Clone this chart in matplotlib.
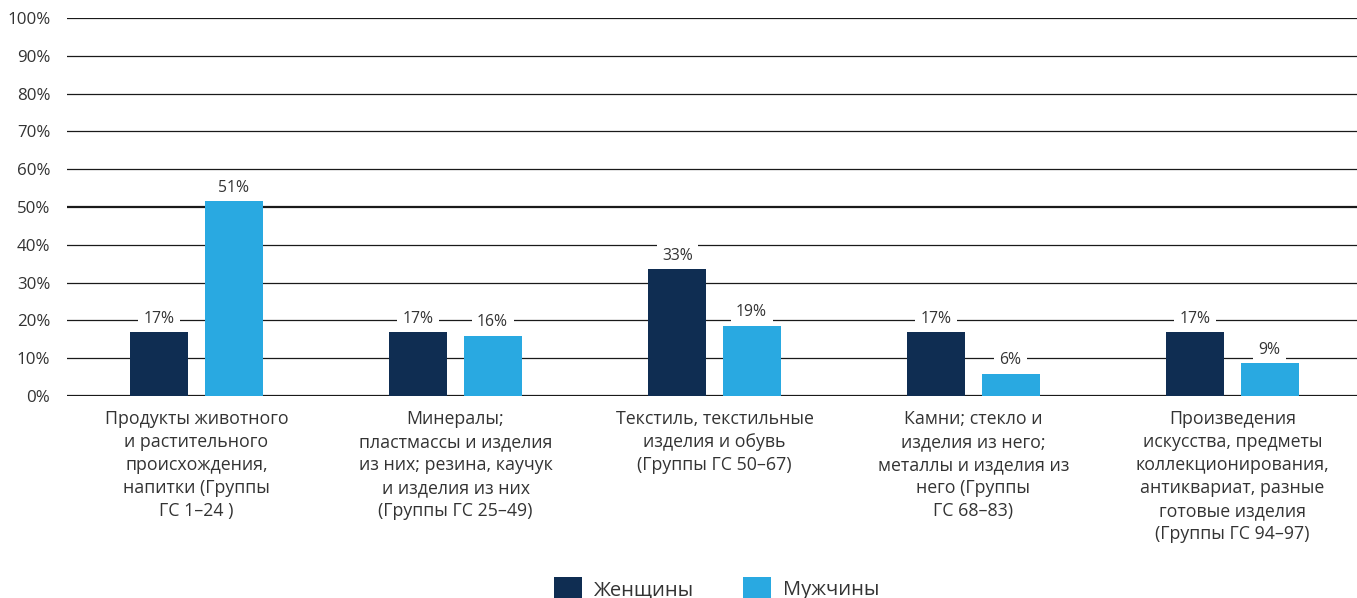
import matplotlib
matplotlib.use("Agg")
import matplotlib.pyplot as plt
import numpy as np
from matplotlib.patches import Patch

categories = [
    "Продукты животного\nи растительного\nпроисхождения,\nнапитки (Группы\nГС 1–24 )",
    "Минералы;\nпластмассы и изделия\nиз них; резина, каучук\nи изделия из них\n(Группы ГС 25–49)",
    "Текстиль, текстильные\nизделия и обувь\n(Группы ГС 50–67)",
    "Камни; стекло и\nизделия из него;\nметаллы и изделия из\nнего (Группы\nГС 68–83)",
    "Произведения\nискусства, предметы\nколлекционирования,\nантиквариат, разные\nготовые изделия\n(Группы ГС 94–97)",
]
women = [16.9, 16.9, 33.5, 16.9, 16.9]
men = [51.5, 15.9, 18.5, 5.8, 8.7]
women_labels = ["17%", "17%", "33%", "17%", "17%"]
men_labels = ["51%", "16%", "19%", "6%", "9%"]
series_names = ["Женщины", "Мужчины"]
yticks = [0, 10, 20, 30, 40, 50, 60, 70, 80, 90, 100]

c_women = "#0f2d52"
c_men = "#29a9e1"
txt = "#333333"

plt.rcParams['font.family'] = ['Open Sans', 'DejaVu Sans']

W, H = 1357, 598
fig = plt.figure(figsize=(W / 100, H / 100), dpi=100)
ax_left, ax_right = 67, 1362
ax_top, ax_bot = 18, 396
ax = fig.add_axes([ax_left / W, 1 - ax_bot / H, (ax_right - ax_left) / W, (ax_bot - ax_top) / H])

x = np.arange(len(categories))
bw = 0.224
off = 0.143

for t in yticks:
    lw = 1.6 if t in (0, 50, 100) else 0.9
    ax.axhline(t, color="#1a1a1a", lw=lw, zorder=1)

ax.bar(x - off, women, bw, color=c_women, zorder=2)
ax.bar(x + off, men, bw, color=c_men, zorder=2)

for xi, v, lab in zip(x, women, women_labels):
    ax.text(xi - off, v + 3.6, lab, ha="center", va="center", fontsize=11.3, color=txt, zorder=3,
            bbox=dict(facecolor="white", edgecolor="none", pad=4))
for xi, v, lab in zip(x, men, men_labels):
    ax.text(xi + off, v + 3.6, lab, ha="center", va="center", fontsize=11.3, color=txt, zorder=3,
            bbox=dict(facecolor="white", edgecolor="none", pad=4))

ax.set_xlim(-0.5, len(categories) - 0.5)
ax.set_ylim(0, 100)
ax.set_yticks(yticks)
ax.set_yticklabels([f"{t}%" for t in yticks], fontsize=12.2, color=txt)
ax.set_xticks(x)
ax.set_xticklabels(categories, fontsize=12.8, color=txt, linespacing=1.36, va="top")
ax.tick_params(axis="both", length=0)
ax.tick_params(axis="y", pad=12)
ax.tick_params(axis="x", pad=10)
for s in ax.spines.values():
    s.set_visible(False)

handles = [Patch(facecolor=c_women, edgecolor="none"), Patch(facecolor=c_men, edgecolor="none")]
fig.legend(handles, series_names, loc="upper center", bbox_to_anchor=(0.528, 1 - 577 / H),
           ncol=2, frameon=False, fontsize=14.5, handlelength=1.4, handleheight=1.4,
           handletextpad=0.6, columnspacing=2.4, borderpad=0, borderaxespad=0,
           labelcolor=txt)

fig.savefig("out.png", dpi=100)
